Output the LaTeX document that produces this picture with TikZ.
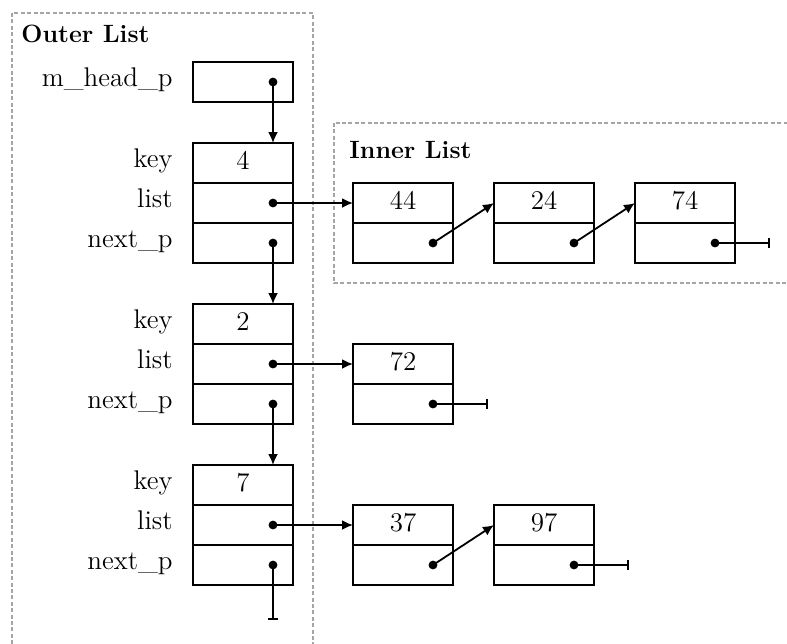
\documentclass[tikz,border=0pt]{standalone}
\usetikzlibrary{arrows.meta,calc,positioning}

\begin{document}
\begin{tikzpicture}[>=Latex, x=0.5pt, y=-0.5pt, font=\fontsize{13.5}{16}\selectfont]

% Colors
\definecolor{framegray}{RGB}{165,165,165}

% Styles
\tikzset{
  cell/.style={
    draw=black,
    line width=1.1pt,
    minimum width=50pt,
    minimum height=20pt,
    inner sep=0pt,
    outer sep=0pt,
    text height=1.6ex,
    text depth=0.2ex
  },
  field/.style={
    inner sep=0pt,
    text height=1.6ex,
    text depth=0.45ex
  },
  dot/.style={
    circle,
    fill=black,
    inner sep=0pt,
    minimum size=4.4pt
  },
  ptr/.style={
    -{Latex[length=5.5pt,width=5pt]},
    line width=0.9pt,
    shorten <=-2pt
  },
  nullptr/.style={
    -{Bar[width=5pt]},
    line width=0.9pt,
    shorten <=-2pt
  },
  frame/.style={
    draw=framegray,
    dash pattern=on 2pt off 1.2pt,
    line width=0.6pt
  },
  listtitle/.style={
    anchor=west,
    inner sep=0pt,
    font=\fontsize{12.5}{15}\selectfont\bfseries
  }
}

\useasboundingbox (0,0) rectangle (787,643);
\clip (0,0) rectangle (787,643);

% Frames
\draw[frame] (12,13) rectangle (313,720);
\draw[frame] (334,123) rectangle (820,283);

\node[listtitle] (outerttl) at (21,34) {Outer List};
\node[listtitle] (innerttl) at (349,150) {Inner List};

% ----------------------------
% Outer list
% ----------------------------
\node[cell] (head) at (243,82) {};
\node[field, left=10pt of head] {m\_head\_p};

\node[cell, below=20.5pt of head] (k4) {4};
\node[cell, below=0pt of k4] (l4) {};
\node[cell, below=0pt of l4] (n4) {};

\node[cell, below=20.5pt of n4] (k2) {2};
\node[cell, below=0pt of k2] (l2) {};
\node[cell, below=0pt of l2] (n2) {};

\node[cell, below=20.5pt of n2] (k7) {7};
\node[cell, below=0pt of k7] (l7) {};
\node[cell, below=0pt of l7] (n7) {};

% Field names
\node[field, left=10pt of k4] {key};
\node[field, left=10pt of l4] {list};
\node[field, left=10pt of n4] {next\_p};
\node[field, left=10pt of k2] {key};
\node[field, left=10pt of l2] {list};
\node[field, left=10pt of n2] {next\_p};
\node[field, left=10pt of k7] {key};
\node[field, left=10pt of l7] {list};
\node[field, left=10pt of n7] {next\_p};

% ----------------------------
% Inner lists
% ----------------------------
\node[cell, right=30pt of l4] (v44) {44};
\node[cell, below=0pt of v44] (p44) {};
\node[cell, right=20.5pt of v44] (v24) {24};
\node[cell, below=0pt of v24] (p24) {};
\node[cell, right=20.5pt of v24] (v74) {74};
\node[cell, below=0pt of v74] (p74) {};

\node[cell, right=30pt of l2] (v72) {72};
\node[cell, below=0pt of v72] (p72) {};

\node[cell, right=30pt of l7] (v37) {37};
\node[cell, below=0pt of v37] (p37) {};
\node[cell, right=20.5pt of v37] (v97) {97};
\node[cell, below=0pt of v97] (p97) {};

% Pointer dots, 20px in from the right edge
\node[dot] (dh)  at ($(head.east)+(-20,0)$) {};
\node[dot] (d4l) at ($(l4.east)+(-20,0)$) {};
\node[dot] (d4n) at ($(n4.east)+(-20,0)$) {};
\node[dot] (d2l) at ($(l2.east)+(-20,0)$) {};
\node[dot] (d2n) at ($(n2.east)+(-20,0)$) {};
\node[dot] (d7l) at ($(l7.east)+(-20,0)$) {};
\node[dot] (d7n) at ($(n7.east)+(-20,0)$) {};

\node[dot] (d44) at ($(p44.east)+(-20,0)$) {};
\node[dot] (d24) at ($(p24.east)+(-20,0)$) {};
\node[dot] (d74) at ($(p74.east)+(-20,0)$) {};
\node[dot] (d72) at ($(p72.east)+(-20,0)$) {};
\node[dot] (d37) at ($(p37.east)+(-20,0)$) {};
\node[dot] (d97) at ($(p97.east)+(-20,0)$) {};

% next_p arrows
\draw[ptr] (dh.center)  -- (dh.center |- k4.north);
\draw[ptr] (d4n.center) -- (d4n.center |- k2.north);
\draw[ptr] (d2n.center) -- (d2n.center |- k7.north);
\draw[nullptr] (d7n.center) -- ++(0,55);

% list arrows
\draw[ptr] (d4l.center) -- (v44.west);
\draw[ptr] (d2l.center) -- (v72.west);
\draw[ptr] (d7l.center) -- (v37.west);

% inner next arrows
\draw[ptr] (d44.center) -- (v24.west);
\draw[ptr] (d24.center) -- (v74.west);
\draw[ptr] (d37.center) -- (v97.west);

% null ends
\draw[nullptr] (d74.center) -- ++(55,0);
\draw[nullptr] (d72.center) -- ++(55,0);
\draw[nullptr] (d97.center) -- ++(55,0);

\end{tikzpicture}
\end{document}
